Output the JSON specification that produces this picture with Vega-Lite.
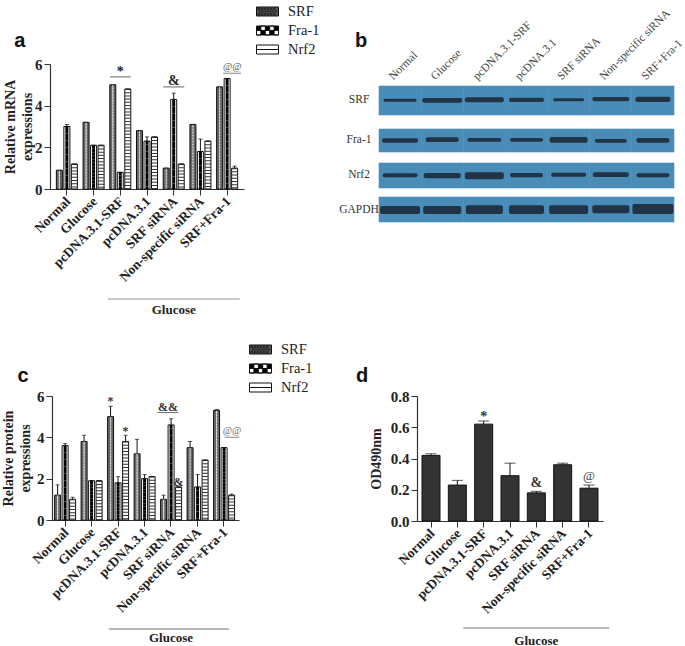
{"$schema":"https://vega.github.io/schema/vega-lite/v6.json","padding":{"left":1,"top":0,"right":0,"bottom":0},"background":"white","bounds":"flush","align":"each","columns":2,"spacing":{"row":174,"column":173},
"config":{"view":{"stroke":null},"axis":{"labelFont":"Liberation Serif","titleFont":"Liberation Serif","labelColor":"#222","titleColor":"#222","domainColor":"#333","tickColor":"#333","grid":false},"text":{"font":"Liberation Serif"}},
"datasets":{
"a":[
{"group":"Normal","series":"SRF","value":0.9,"upper":0.9},{"group":"Normal","series":"Fra-1","value":3.0,"upper":3.1},{"group":"Normal","series":"Nrf2","value":1.2,"upper":1.2},
{"group":"Glucose","series":"SRF","value":3.2,"upper":3.2},{"group":"Glucose","series":"Fra-1","value":2.1,"upper":2.1},{"group":"Glucose","series":"Nrf2","value":2.1,"upper":2.1},
{"group":"pcDNA.3.1-SRF","series":"SRF","value":5.0,"upper":5.0},{"group":"pcDNA.3.1-SRF","series":"Fra-1","value":0.8,"upper":0.8},{"group":"pcDNA.3.1-SRF","series":"Nrf2","value":4.8,"upper":4.8},
{"group":"pcDNA.3.1","series":"SRF","value":2.8,"upper":2.8},{"group":"pcDNA.3.1","series":"Fra-1","value":2.3,"upper":2.5},{"group":"pcDNA.3.1","series":"Nrf2","value":2.5,"upper":2.5},
{"group":"SRF siRNA","series":"SRF","value":1.0,"upper":1.0},{"group":"SRF siRNA","series":"Fra-1","value":4.3,"upper":4.6},{"group":"SRF siRNA","series":"Nrf2","value":1.2,"upper":1.2},
{"group":"Non-specific siRNA","series":"SRF","value":3.1,"upper":3.1},{"group":"Non-specific siRNA","series":"Fra-1","value":1.8,"upper":2.4},{"group":"Non-specific siRNA","series":"Nrf2","value":2.3,"upper":2.3},
{"group":"SRF+Fra-1","series":"SRF","value":4.9,"upper":4.9},{"group":"SRF+Fra-1","series":"Fra-1","value":5.3,"upper":5.3},{"group":"SRF+Fra-1","series":"Nrf2","value":1.0,"upper":1.1}],
"c":[
{"group":"Normal","series":"SRF","value":1.2,"upper":1.7},{"group":"Normal","series":"Fra-1","value":3.6,"upper":3.7},{"group":"Normal","series":"Nrf2","value":1.0,"upper":1.1},
{"group":"Glucose","series":"SRF","value":3.8,"upper":4.1},{"group":"Glucose","series":"Fra-1","value":1.9,"upper":1.9},{"group":"Glucose","series":"Nrf2","value":1.9,"upper":1.9},
{"group":"pcDNA.3.1-SRF","series":"SRF","value":5.0,"upper":5.5},{"group":"pcDNA.3.1-SRF","series":"Fra-1","value":1.8,"upper":2.1},{"group":"pcDNA.3.1-SRF","series":"Nrf2","value":3.8,"upper":4.1},
{"group":"pcDNA.3.1","series":"SRF","value":3.2,"upper":3.9},{"group":"pcDNA.3.1","series":"Fra-1","value":2.0,"upper":2.2},{"group":"pcDNA.3.1","series":"Nrf2","value":2.1,"upper":2.1},
{"group":"SRF siRNA","series":"SRF","value":1.0,"upper":1.2},{"group":"SRF siRNA","series":"Fra-1","value":4.6,"upper":4.9},{"group":"SRF siRNA","series":"Nrf2","value":1.6,"upper":1.6},
{"group":"Non-specific siRNA","series":"SRF","value":3.5,"upper":3.8},{"group":"Non-specific siRNA","series":"Fra-1","value":1.6,"upper":2.2},{"group":"Non-specific siRNA","series":"Nrf2","value":2.9,"upper":2.9},
{"group":"SRF+Fra-1","series":"SRF","value":5.3,"upper":5.35},{"group":"SRF+Fra-1","series":"Fra-1","value":3.5,"upper":3.5},{"group":"SRF+Fra-1","series":"Nrf2","value":1.2,"upper":1.25}],
"d":[
{"group":"Normal","value":0.42,"upper":0.43},{"group":"Glucose","value":0.23,"upper":0.26},{"group":"pcDNA.3.1-SRF","value":0.62,"upper":0.64},{"group":"pcDNA.3.1","value":0.29,"upper":0.37},{"group":"SRF siRNA","value":0.18,"upper":0.19},{"group":"Non-specific siRNA","value":0.36,"upper":0.37},{"group":"SRF+Fra-1","value":0.21,"upper":0.23}],
"blot":[
{"protein":"SRF","lane":"Normal","top":22,"bottom":51,"bandTop":34.7,"bandBottom":37.7,"extent":33},{"protein":"SRF","lane":"Glucose","top":22,"bottom":51,"bandTop":34,"bandBottom":38.7,"extent":40},{"protein":"SRF","lane":"pcDNA.3.1-SRF","top":22,"bottom":51,"bandTop":33.3,"bandBottom":38.3,"extent":39},{"protein":"SRF","lane":"pcDNA.3.1","top":22,"bottom":51,"bandTop":33.7,"bandBottom":38,"extent":35},{"protein":"SRF","lane":"SRF siRNA","top":22,"bottom":51,"bandTop":34.3,"bandBottom":37.3,"extent":31},{"protein":"SRF","lane":"Non-specific siRNA","top":22,"bottom":51,"bandTop":33,"bandBottom":37.3,"extent":37},{"protein":"SRF","lane":"SRF+Fra-1","top":22,"bottom":51,"bandTop":32.7,"bandBottom":38,"extent":35},
{"protein":"Fra-1","lane":"Normal","top":65,"bottom":88,"bandTop":74.3,"bandBottom":78.7,"extent":36},{"protein":"Fra-1","lane":"Glucose","top":65,"bottom":88,"bandTop":73.3,"bandBottom":78,"extent":33},{"protein":"Fra-1","lane":"pcDNA.3.1-SRF","top":65,"bottom":88,"bandTop":74,"bandBottom":77.7,"extent":34},{"protein":"Fra-1","lane":"pcDNA.3.1","top":65,"bottom":88,"bandTop":74,"bandBottom":77.7,"extent":33},{"protein":"Fra-1","lane":"SRF siRNA","top":65,"bottom":88,"bandTop":73,"bandBottom":78.7,"extent":38},{"protein":"Fra-1","lane":"Non-specific siRNA","top":65,"bottom":88,"bandTop":75,"bandBottom":78.7,"extent":32},{"protein":"Fra-1","lane":"SRF+Fra-1","top":65,"bottom":88,"bandTop":74,"bandBottom":78.7,"extent":33},
{"protein":"Nrf2","lane":"Normal","top":99,"bottom":124,"bandTop":109.3,"bandBottom":113.3,"extent":35},{"protein":"Nrf2","lane":"Glucose","top":99,"bottom":124,"bandTop":109,"bandBottom":114.3,"extent":37},{"protein":"Nrf2","lane":"pcDNA.3.1-SRF","top":99,"bottom":124,"bandTop":108.3,"bandBottom":115.3,"extent":39},{"protein":"Nrf2","lane":"pcDNA.3.1","top":99,"bottom":124,"bandTop":109,"bandBottom":113.3,"extent":33},{"protein":"Nrf2","lane":"SRF siRNA","top":99,"bottom":124,"bandTop":108.7,"bandBottom":112.7,"extent":35},{"protein":"Nrf2","lane":"Non-specific siRNA","top":99,"bottom":124,"bandTop":108.3,"bandBottom":113,"extent":36},{"protein":"Nrf2","lane":"SRF+Fra-1","top":99,"bottom":124,"bandTop":109.3,"bandBottom":113.3,"extent":33},
{"protein":"GAPDH","lane":"Normal","top":133,"bottom":158,"bandTop":142,"bandBottom":150,"extent":40},{"protein":"GAPDH","lane":"Glucose","top":133,"bottom":158,"bandTop":142,"bandBottom":150,"extent":38},{"protein":"GAPDH","lane":"pcDNA.3.1-SRF","top":133,"bottom":158,"bandTop":141.3,"bandBottom":150,"extent":37},{"protein":"GAPDH","lane":"pcDNA.3.1","top":133,"bottom":158,"bandTop":141.3,"bandBottom":150,"extent":35},{"protein":"GAPDH","lane":"SRF siRNA","top":133,"bottom":158,"bandTop":141.3,"bandBottom":150,"extent":39},{"protein":"GAPDH","lane":"Non-specific siRNA","top":133,"bottom":158,"bandTop":141.3,"bandBottom":149.3,"extent":37},{"protein":"GAPDH","lane":"SRF+Fra-1","top":133,"bottom":158,"bandTop":140,"bandBottom":150,"extent":41}]
},
"concat":[
{"width":194,"height":125,"data":{"name":"a"},
"resolve":{"scale":{"shape":"independent","fill":"independent"},"legend":{"shape":"independent","fill":"independent"}},
"encoding":{"x":{"field":"group","type":"nominal","sort":null,"scale":{"domain":["Normal","Glucose","pcDNA.3.1-SRF","pcDNA.3.1","SRF siRNA","Non-specific siRNA","SRF+Fra-1"],"paddingInner":0.157,"paddingOuter":0.21},"axis":{"title":null,"labelAngle":-45,"labelAlign":"right","labelBaseline":"middle","labelFont":"Liberation Serif","labelFontWeight":"bold","labelFontSize":13.5,"labelPadding":4,"labelOffset":1.5,"tickSize":6,"domainWidth":1.2,"labelOverlap":false}},"xOffset":{"field":"series","type":"nominal","scale":{"domain":["SRF","Fra-1","Nrf2"],"paddingInner":0.2,"paddingOuter":0.1}}},
"layer":[
{"mark":{"type":"bar","stroke":"#111","strokeWidth":1},"encoding":{"y":{"field":"value","type":"quantitative","scale":{"domain":[0,6],"nice":false},"axis":{"title":["Relative mRNA","expressions"],"values":[0,2,4,6],"labelFontWeight":"bold","labelFontSize":15,"titleFontWeight":"bold","titleFontSize":14,"titleLineHeight":17,"titlePadding":0,"tickSize":6,"domainWidth":1.2,"labelPadding":2}},"color":{"field":"series","type":"nominal","scale":{"domain":["Fra-1","Nrf2","SRF"],"range":["#ffffff","#ffffff","#666666"]},"legend":null}}},
{"transform":[{"filter":"datum.series==='SRF'"}],"mark":{"type":"rule","color":"#eeeeee","strokeWidth":1.2,"strokeDash":[1.2,1.8],"xOffset":-1.5},"encoding":{"y":{"field":"value","type":"quantitative"},"y2":{"datum":0}}},
{"transform":[{"filter":"datum.series==='SRF'"}],"mark":{"type":"rule","color":"#eeeeee","strokeWidth":1.2,"strokeDash":[1.2,1.8],"strokeDashOffset":1.5,"xOffset":1.5},"encoding":{"y":{"field":"value","type":"quantitative"},"y2":{"datum":0}}},
{"transform":[{"filter":"datum.series==='Fra-1'"}],"mark":{"type":"rule","color":"#000","strokeWidth":3,"strokeDash":[3.5,3.5],"xOffset":-1.5},"encoding":{"y":{"field":"value","type":"quantitative"},"y2":{"datum":0}}},
{"transform":[{"filter":"datum.series==='Fra-1'"}],"mark":{"type":"rule","color":"#000","strokeWidth":3,"strokeDash":[3.5,3.5],"strokeDashOffset":3.5,"xOffset":1.5},"encoding":{"y":{"field":"value","type":"quantitative"},"y2":{"datum":0}}},
{"transform":[{"filter":"datum.series==='Nrf2'"}],"mark":{"type":"rule","color":"#333","strokeWidth":6,"strokeDash":[1,2.2]},"encoding":{"y":{"field":"value","type":"quantitative"},"y2":{"datum":0}}},
{"mark":{"type":"rule","color":"#111","strokeWidth":1},"encoding":{"y":{"field":"value","type":"quantitative"},"y2":{"field":"upper"}}},
{"mark":{"type":"tick","color":"#111","size":4,"thickness":1},"encoding":{"y":{"field":"upper","type":"quantitative"}}},
{"mark":{"type":"point","filled":true,"size":0},"encoding":{"y":{"field":"value","type":"quantitative"},
"fill":{"field":"series","type":"nominal","scale":{"domain":["SRF","Fra-1","Nrf2"],"range":["#555555","#000000","#ffffff"]},"legend":{"title":null,"orient":"none","legendX":206,"legendY":-64,"padding":0,"symbolSize":484,"symbolOpacity":1,"labelOffset":9,"labelFont":"Liberation Serif","labelFontSize":14.5,"labelColor":"#222","rowPadding":0,"encode":{"symbols":{"update":{"stroke":{"value":"#111"},"strokeWidth":{"value":1}}}}}},
"shape":{"field":"series","type":"nominal","scale":{"domain":["SRF","Fra-1","Nrf2"],"range":["M-1,-.41H1V.41H-1Z M-.85,-.3V-.18H-.73V-.3Z M-.57,-.3V-.18H-.45V-.3Z M-.29,-.3V-.18H-.17V-.3Z M-.01,-.3V-.18H.11V-.3Z M.27,-.3V-.18H.39V-.3Z M.55,-.3V-.18H.67V-.3Z M-.71,-.06V.06H-.59V-.06Z M-.43,-.06V.06H-.31V-.06Z M-.15,-.06V.06H-.03V-.06Z M.13,-.06V.06H.25V-.06Z M.41,-.06V.06H.53V-.06Z M.69,-.06V.06H.81V-.06Z M-.85,.18V.3H-.73V.18Z M-.57,.18V.3H-.45V.18Z M-.29,.18V.3H-.17V.18Z M-.01,.18V.3H.11V.18Z M.27,.18V.3H.39V.18Z M.55,.18V.3H.67V.18Z","M-1,-.41H1V.41H-1Z M-.6,-.41V0H-.2V-.41Z M.2,-.41V0H.6V-.41Z M-1,0V.41H-.6V0Z M-.2,0V.41H.2V0Z M.6,0V.41H1V0Z","M-1,-.41H1V.41H-1Z M-1,0H1"]},"legend":{"title":null,"orient":"none","legendX":206,"legendY":-64,"padding":0,"symbolSize":484,"symbolOpacity":1,"labelOffset":9,"labelFont":"Liberation Serif","labelFontSize":14.5,"labelColor":"#222","rowPadding":0,"encode":{"symbols":{"update":{"stroke":{"value":"#111"},"strokeWidth":{"value":1}}}}}}}},
{"data":{"name":"c"},"mark":{"type":"point","filled":true,"size":0},"encoding":{"y":{"field":"value","type":"quantitative"},
"fill":{"field":"series","type":"nominal","scale":{"domain":["SRF","Fra-1","Nrf2"],"range":["#555555","#000000","#ffffff"]},"legend":{"title":null,"orient":"none","legendX":199,"legendY":274,"padding":0,"symbolSize":484,"symbolOpacity":1,"labelOffset":9,"labelFont":"Liberation Serif","labelFontSize":14.5,"labelColor":"#222","rowPadding":0,"encode":{"symbols":{"update":{"stroke":{"value":"#111"},"strokeWidth":{"value":1}}}}}},
"shape":{"field":"series","type":"nominal","scale":{"domain":["SRF","Fra-1","Nrf2"],"range":["M-1,-.41H1V.41H-1Z M-.85,-.3V-.18H-.73V-.3Z M-.57,-.3V-.18H-.45V-.3Z M-.29,-.3V-.18H-.17V-.3Z M-.01,-.3V-.18H.11V-.3Z M.27,-.3V-.18H.39V-.3Z M.55,-.3V-.18H.67V-.3Z M-.71,-.06V.06H-.59V-.06Z M-.43,-.06V.06H-.31V-.06Z M-.15,-.06V.06H-.03V-.06Z M.13,-.06V.06H.25V-.06Z M.41,-.06V.06H.53V-.06Z M.69,-.06V.06H.81V-.06Z M-.85,.18V.3H-.73V.18Z M-.57,.18V.3H-.45V.18Z M-.29,.18V.3H-.17V.18Z M-.01,.18V.3H.11V.18Z M.27,.18V.3H.39V.18Z M.55,.18V.3H.67V.18Z","M-1,-.41H1V.41H-1Z M-.6,-.41V0H-.2V-.41Z M.2,-.41V0H.6V-.41Z M-1,0V.41H-.6V0Z M-.2,0V.41H.2V0Z M.6,0V.41H1V0Z","M-1,-.41H1V.41H-1Z M-1,0H1"]},"legend":{"title":null,"orient":"none","legendX":199,"legendY":274,"padding":0,"symbolSize":484,"symbolOpacity":1,"labelOffset":9,"labelFont":"Liberation Serif","labelFontSize":14.5,"labelColor":"#222","rowPadding":0,"encode":{"symbols":{"update":{"stroke":{"value":"#111"},"strokeWidth":{"value":1}}}}}}}},
{"data":{"values":[{"group":"pcDNA.3.1-SRF","y":5.38},{"group":"SRF siRNA","y":4.9}]},"mark":{"type":"tick","color":"#222","size":21,"thickness":1},"encoding":{"xOffset":null,"y":{"field":"y","type":"quantitative"}}},
{"data":{"values":[{"group":"SRF+Fra-1","y":5.55}]},"mark":{"type":"tick","color":"#888","size":18,"thickness":1.5,"xOffset":5},"encoding":{"xOffset":null,"y":{"field":"y","type":"quantitative"}}},
{"data":{"values":[{"group":"pcDNA.3.1-SRF","y":5.62,"label":"*"},{"group":"SRF siRNA","y":5.2,"label":"&"}]},"mark":{"type":"text","fontWeight":"bold","fontSize":14,"color":"#222"},"encoding":{"xOffset":null,"y":{"field":"y","type":"quantitative"},"text":{"field":"label"}}},
{"data":{"values":[{"group":"SRF+Fra-1","y":5.88,"label":"@@"}]},"mark":{"type":"text","fontSize":10,"color":"#555","xOffset":5},"encoding":{"xOffset":null,"y":{"field":"y","type":"quantitative"},"text":{"field":"label"}}},
{"data":{"values":[{"group":"Normal","y":6.84,"label":"a"}]},"mark":{"type":"text","font":"Liberation Sans","fontWeight":"bold","fontSize":20,"color":"#111","baseline":"alphabetic","dx":-47},"encoding":{"xOffset":null,"y":{"field":"y","type":"quantitative"},"text":{"field":"label"}}},
{"data":{"values":[{"group":"SRF siRNA","y":-5.28}]},"mark":{"type":"tick","color":"#666","size":132,"thickness":1},"encoding":{"xOffset":null,"y":{"field":"y","type":"quantitative"}}},
{"data":{"values":[{"group":"SRF siRNA","y":-5.79,"label":"Glucose"}]},"mark":{"type":"text","fontWeight":"bold","fontSize":13,"color":"#222"},"encoding":{"xOffset":null,"y":{"field":"y","type":"quantitative"},"text":{"field":"label"}}}
]},
{"width":257,"height":158,"data":{"name":"blot"},
"encoding":{"x":{"field":"lane","type":"nominal","scale":{"domain":["Normal","Glucose","pcDNA.3.1-SRF","pcDNA.3.1","SRF siRNA","Non-specific siRNA","SRF+Fra-1"],"range":[-38,257],"paddingInner":0,"paddingOuter":0},"axis":{"orient":"top","title":null,"offset":-14,"labelAngle":-45,"labelAlign":"left","labelBaseline":"middle","labelFont":"Liberation Serif","labelFontSize":11.5,"labelColor":"#444","labelOffset":-9,"labelPadding":0,"ticks":false,"domain":false,"labelOverlap":false,"labelBound":false,"labelFlush":false}}},
"layer":[
{"mark":{"type":"bar","fill":"#4a8cb8","stroke":"#4a8cb8","strokeWidth":0.6},"encoding":{"y":{"field":"top","type":"quantitative","scale":{"domain":[0,158],"range":[0,158],"nice":false},"axis":null},"y2":{"field":"bottom"}}},
{"mark":{"type":"bar","fill":"#1d2c3c","fillOpacity":0.92,"cornerRadius":2},"encoding":{"y":{"field":"bandTop","type":"quantitative","axis":null},"y2":{"field":"bandBottom"},"size":{"field":"extent","type":"quantitative","scale":null}}},
{"data":{"values":[{"lane":"Normal","y":36,"label":"SRF"},{"lane":"Normal","y":76,"label":"Fra-1"},{"lane":"Normal","y":111,"label":"Nrf2"},{"lane":"Normal","y":146,"label":"GAPDH"}]},"mark":{"type":"text","fontSize":11.5,"color":"#333","dx":-41},"encoding":{"y":{"field":"y","type":"quantitative","axis":null},"text":{"field":"label"}}},
{"data":{"values":[{"lane":"Normal","y":-17,"label":"b"}]},"mark":{"type":"text","font":"Liberation Sans","fontWeight":"bold","fontSize":20,"color":"#111","baseline":"alphabetic","dx":-39},"encoding":{"y":{"field":"y","type":"quantitative","axis":null},"text":{"field":"label"}}}
]},
{"width":189,"height":124,"data":{"name":"c"},
"encoding":{"x":{"field":"group","type":"nominal","sort":null,"scale":{"domain":["Normal","Glucose","pcDNA.3.1-SRF","pcDNA.3.1","SRF siRNA","Non-specific siRNA","SRF+Fra-1"],"paddingInner":0.157,"paddingOuter":0.145},"axis":{"title":null,"labelAngle":-45,"labelAlign":"right","labelBaseline":"middle","labelFont":"Liberation Serif","labelFontWeight":"bold","labelFontSize":13.5,"labelPadding":4,"labelOffset":1.5,"tickSize":6,"domainWidth":1.2,"labelOverlap":false}},"xOffset":{"field":"series","type":"nominal","scale":{"domain":["SRF","Fra-1","Nrf2"],"paddingInner":0.2,"paddingOuter":0.1}}},
"layer":[
{"mark":{"type":"bar","stroke":"#111","strokeWidth":1},"encoding":{"y":{"field":"value","type":"quantitative","scale":{"domain":[0,6],"nice":false},"axis":{"title":["Relative protein","expressions"],"values":[0,2,4,6],"offset":-2,"labelFontWeight":"bold","labelFontSize":15,"titleFontWeight":"bold","titleFontSize":14,"titleLineHeight":17,"titlePadding":4,"tickSize":6,"domainWidth":1.2,"labelPadding":2}},"color":{"field":"series","type":"nominal","scale":{"domain":["Fra-1","Nrf2","SRF"],"range":["#ffffff","#ffffff","#666666"]},"legend":null}}},
{"transform":[{"filter":"datum.series==='SRF'"}],"mark":{"type":"rule","color":"#eeeeee","strokeWidth":1.2,"strokeDash":[1.2,1.8],"xOffset":-1.5},"encoding":{"y":{"field":"value","type":"quantitative"},"y2":{"datum":0}}},
{"transform":[{"filter":"datum.series==='SRF'"}],"mark":{"type":"rule","color":"#eeeeee","strokeWidth":1.2,"strokeDash":[1.2,1.8],"strokeDashOffset":1.5,"xOffset":1.5},"encoding":{"y":{"field":"value","type":"quantitative"},"y2":{"datum":0}}},
{"transform":[{"filter":"datum.series==='Fra-1'"}],"mark":{"type":"rule","color":"#000","strokeWidth":3,"strokeDash":[3.5,3.5],"xOffset":-1.5},"encoding":{"y":{"field":"value","type":"quantitative"},"y2":{"datum":0}}},
{"transform":[{"filter":"datum.series==='Fra-1'"}],"mark":{"type":"rule","color":"#000","strokeWidth":3,"strokeDash":[3.5,3.5],"strokeDashOffset":3.5,"xOffset":1.5},"encoding":{"y":{"field":"value","type":"quantitative"},"y2":{"datum":0}}},
{"transform":[{"filter":"datum.series==='Nrf2'"}],"mark":{"type":"rule","color":"#333","strokeWidth":6,"strokeDash":[1,2.2]},"encoding":{"y":{"field":"value","type":"quantitative"},"y2":{"datum":0}}},
{"mark":{"type":"rule","color":"#111","strokeWidth":1},"encoding":{"y":{"field":"value","type":"quantitative"},"y2":{"field":"upper"}}},
{"mark":{"type":"tick","color":"#111","size":4,"thickness":1},"encoding":{"y":{"field":"upper","type":"quantitative"}}},
{"data":{"values":[{"group":"SRF siRNA","y":5.2}]},"mark":{"type":"tick","color":"#333","size":21,"thickness":1,"xOffset":-3},"encoding":{"xOffset":null,"y":{"field":"y","type":"quantitative"}}},
{"data":{"values":[{"group":"SRF+Fra-1","y":4.0}]},"mark":{"type":"tick","color":"#777","size":15,"thickness":1.2,"xOffset":8},"encoding":{"xOffset":null,"y":{"field":"y","type":"quantitative"}}},
{"data":{"values":[{"group":"pcDNA.3.1-SRF","series":"SRF","y":5.75,"label":"*"},{"group":"pcDNA.3.1-SRF","series":"Nrf2","y":4.3,"label":"*"},{"group":"SRF siRNA","series":"Nrf2","y":1.85,"label":"&"}]},"mark":{"type":"text","fontWeight":"bold","fontSize":12,"color":"#333"},"encoding":{"y":{"field":"y","type":"quantitative"},"text":{"field":"label"}}},
{"data":{"values":[{"group":"SRF siRNA","y":5.47,"label":"&&"}]},"mark":{"type":"text","fontWeight":"bold","fontSize":12,"color":"#333","xOffset":-3},"encoding":{"xOffset":null,"y":{"field":"y","type":"quantitative"},"text":{"field":"label"}}},
{"data":{"values":[{"group":"SRF+Fra-1","y":4.3,"label":"@@"}]},"mark":{"type":"text","fontSize":10,"color":"#666","xOffset":8},"encoding":{"xOffset":null,"y":{"field":"y","type":"quantitative"},"text":{"field":"label"}}},
{"data":{"values":[{"group":"Normal","y":6.68,"label":"c"}]},"mark":{"type":"text","font":"Liberation Sans","fontWeight":"bold","fontSize":20,"color":"#111","baseline":"alphabetic","dx":-42},"encoding":{"xOffset":null,"y":{"field":"y","type":"quantitative"},"text":{"field":"label"}}},
{"data":{"values":[{"group":"SRF siRNA","y":-5.27}]},"mark":{"type":"tick","color":"#333","size":120,"thickness":1,"xOffset":-2},"encoding":{"xOffset":null,"y":{"field":"y","type":"quantitative"}}},
{"data":{"values":[{"group":"SRF siRNA","y":-5.71,"label":"Glucose"}]},"mark":{"type":"text","fontWeight":"bold","fontSize":13,"color":"#222"},"encoding":{"xOffset":null,"y":{"field":"y","type":"quantitative"},"text":{"field":"label"}}}
]},
{"width":186,"height":125,"data":{"name":"d"},
"encoding":{"x":{"field":"group","type":"nominal","sort":null,"scale":{"domain":["Normal","Glucose","pcDNA.3.1-SRF","pcDNA.3.1","SRF siRNA","Non-specific siRNA","SRF+Fra-1"],"paddingInner":0.316,"paddingOuter":0.19},"axis":{"title":null,"labelAngle":-45,"labelAlign":"right","labelBaseline":"middle","labelFont":"Liberation Serif","labelFontWeight":"bold","labelFontSize":13.5,"labelPadding":4,"labelOffset":1.5,"tickSize":6,"domainWidth":1.2,"labelOverlap":false}}},
"layer":[
{"mark":{"type":"bar","fill":"#333333","stroke":"#111","strokeWidth":1},"encoding":{"y":{"field":"value","type":"quantitative","scale":{"domain":[0,0.8],"nice":false},"axis":{"title":"OD490nm","values":[0,0.2,0.4,0.6,0.8],"format":".1f","labelFontWeight":"bold","labelFontSize":15,"titleFontWeight":"bold","titleFontSize":14,"titlePadding":7,"tickSize":6,"domainWidth":1.2,"labelPadding":2}}}},
{"mark":{"type":"rule","color":"#111","strokeWidth":1},"encoding":{"y":{"field":"value","type":"quantitative","axis":{"values":[0,0.2,0.4,0.6,0.8]}},"y2":{"field":"upper"}}},
{"mark":{"type":"tick","color":"#111","size":11,"thickness":1},"encoding":{"y":{"field":"upper","type":"quantitative","axis":{"values":[0,0.2,0.4,0.6,0.8]}}}},
{"data":{"values":[{"group":"pcDNA.3.1-SRF","y":0.665,"label":"*"},{"group":"SRF siRNA","y":0.245,"label":"&"}]},"mark":{"type":"text","fontWeight":"bold","fontSize":14,"color":"#333"},"encoding":{"y":{"field":"y","type":"quantitative","axis":{"values":[0,0.2,0.4,0.6,0.8]}},"text":{"field":"label"}}},
{"data":{"values":[{"group":"SRF+Fra-1","y":0.285,"label":"@"}]},"mark":{"type":"text","fontSize":13,"color":"#444"},"encoding":{"y":{"field":"y","type":"quantitative","axis":{"values":[0,0.2,0.4,0.6,0.8]}},"text":{"field":"label"}}},
{"data":{"values":[{"group":"Normal","y":0.89,"label":"d"}]},"mark":{"type":"text","font":"Liberation Sans","fontWeight":"bold","fontSize":20,"color":"#111","baseline":"alphabetic","dx":-69},"encoding":{"y":{"field":"y","type":"quantitative","axis":{"values":[0,0.2,0.4,0.6,0.8]}},"text":{"field":"label"}}},
{"data":{"values":[{"group":"SRF siRNA","y":-0.685}]},"mark":{"type":"tick","color":"#333","size":146,"thickness":1},"encoding":{"y":{"field":"y","type":"quantitative","axis":{"values":[0,0.2,0.4,0.6,0.8]}}}},
{"data":{"values":[{"group":"SRF siRNA","y":-0.765,"label":"Glucose"}]},"mark":{"type":"text","fontWeight":"bold","fontSize":13,"color":"#222"},"encoding":{"y":{"field":"y","type":"quantitative","axis":{"values":[0,0.2,0.4,0.6,0.8]}},"text":{"field":"label"}}}
]}
]}
